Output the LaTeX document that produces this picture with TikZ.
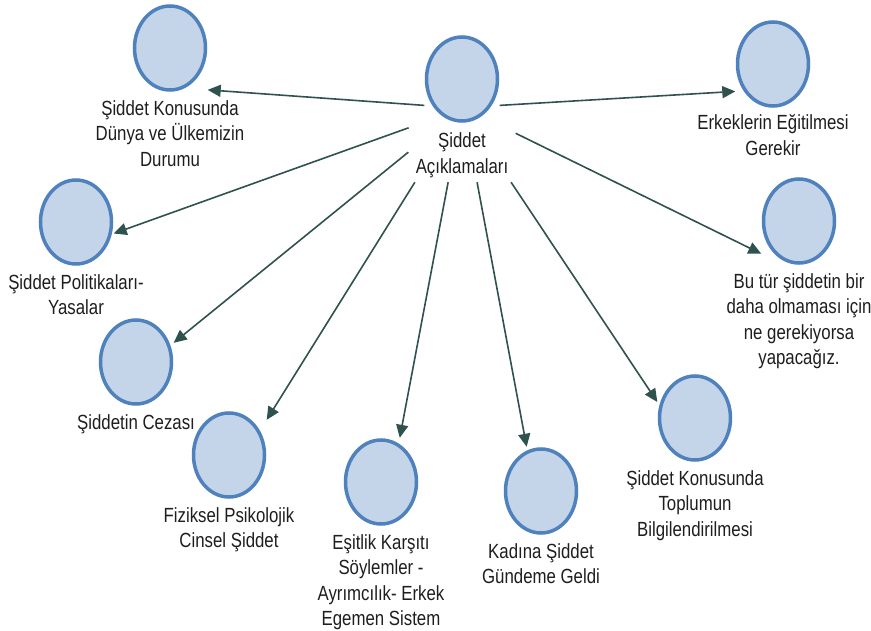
\documentclass[tikz,border=0pt]{standalone}
\usepackage{fontspec}
\setmainfont{Liberation Sans}[FakeStretch=0.82]
\usetikzlibrary{positioning,arrows.meta}

\definecolor{bubfill}{RGB}{196,213,233}
\definecolor{bubline}{RGB}{79,129,189}
\definecolor{arrcol}{RGB}{47,82,79}
\definecolor{txtcol}{RGB}{30,30,30}

\tikzset{
	bubble/.style={rectangle, minimum width=75pt, minimum height=88pt, inner sep=0pt,
		path picture={\draw[line width=3.5pt, draw=bubline, fill=bubfill]
			(path picture bounding box.center) ellipse [x radius=35.5pt, y radius=42pt];}},
	lbl/.style={font=\fontsize{20.5}{25.5}\selectfont, align=center, inner sep=0pt, text=txtcol},
	arr/.style={draw=arrcol, line width=1.6pt, -{Triangle[length=13pt,width=12pt]}}
}

\begin{document}
\begin{tikzpicture}[x=1pt, y=-1pt]
		\useasboundingbox (0,0) rectangle (871,631);

		% centre
		\node[bubble] (hubc) at (462,79) {};
		\node[lbl, minimum width=107pt, minimum height=54pt] (hubt) at (462,155) {Şiddet\\Açıklamaları};

		% outer bubbles
		\node[bubble] (dunya) at (170,48) {};
		\node[bubble] (polit) at (76,222) {};
		\node[bubble] (ceza) at (136,362) {};
		\node[bubble] (fizik) at (229,455) {};
		\node[bubble] (esit) at (381,482) {};
		\node[bubble] (kadin) at (541,491) {};
		\node[bubble] (toplum) at (695,418) {};
		\node[bubble] (butur) at (799,221) {};
		\node[bubble] (erkek) at (773,64) {};

		% labels
		\node[lbl, below=8pt of dunya] (dunyat) {Şiddet Konusunda\\Dünya ve Ülkemizin\\Durumu};
		\node[lbl, below=8pt of polit] (politt) {Şiddet Politikaları-\\Yasalar};
		\node[lbl, below=8pt of ceza] (cezat) {Şiddetin Cezası};
		\node[lbl, below=8pt of fizik] (fizikt) {Fiziksel Psikolojik\\Cinsel Şiddet};
		\node[lbl, below=8pt of esit] (esitt) {Eşitlik Karşıtı\\Söylemler -\\Ayrımcılık- Erkek\\Egemen Sistem};
		\node[lbl, below=8pt of kadin] (kadint) {Kadına Şiddet\\Gündeme Geldi};
		\node[lbl, below=8pt of toplum] (toplumt) {Şiddet Konusunda\\Toplumun\\Bilgilendirilmesi};
		\node[lbl, below=8pt of butur] (butur t) {Bu tür şiddetin bir\\daha olmaması için\\ne gerekiyorsa\\yapacağız.};
		\node[lbl, below=6pt of erkek] (erkekt) {Erkeklerin Eğitilmesi\\Gerekir};

		% arrows
		\draw[arr] (hubc.215) -- (dunya.-48);
		\draw[arr] (hubt.153) -- (polit.-17);
		\draw[arr] (hubt.177) -- (ceza.27);
		\draw[arr] (hubt.210) -- (fizik.43);
		\draw[arr] (hubt.243) -- (esit.67);
		\draw[arr] (hubt.-61) -- (kadin.108);
		\draw[arr] (hubt.-29) -- (toplum.157);
		\draw[arr] (hubt.22) -- (butur.-139);
		\draw[arr] (hubc.-35) -- (erkek.-144);
	\end{tikzpicture}
\end{document}
